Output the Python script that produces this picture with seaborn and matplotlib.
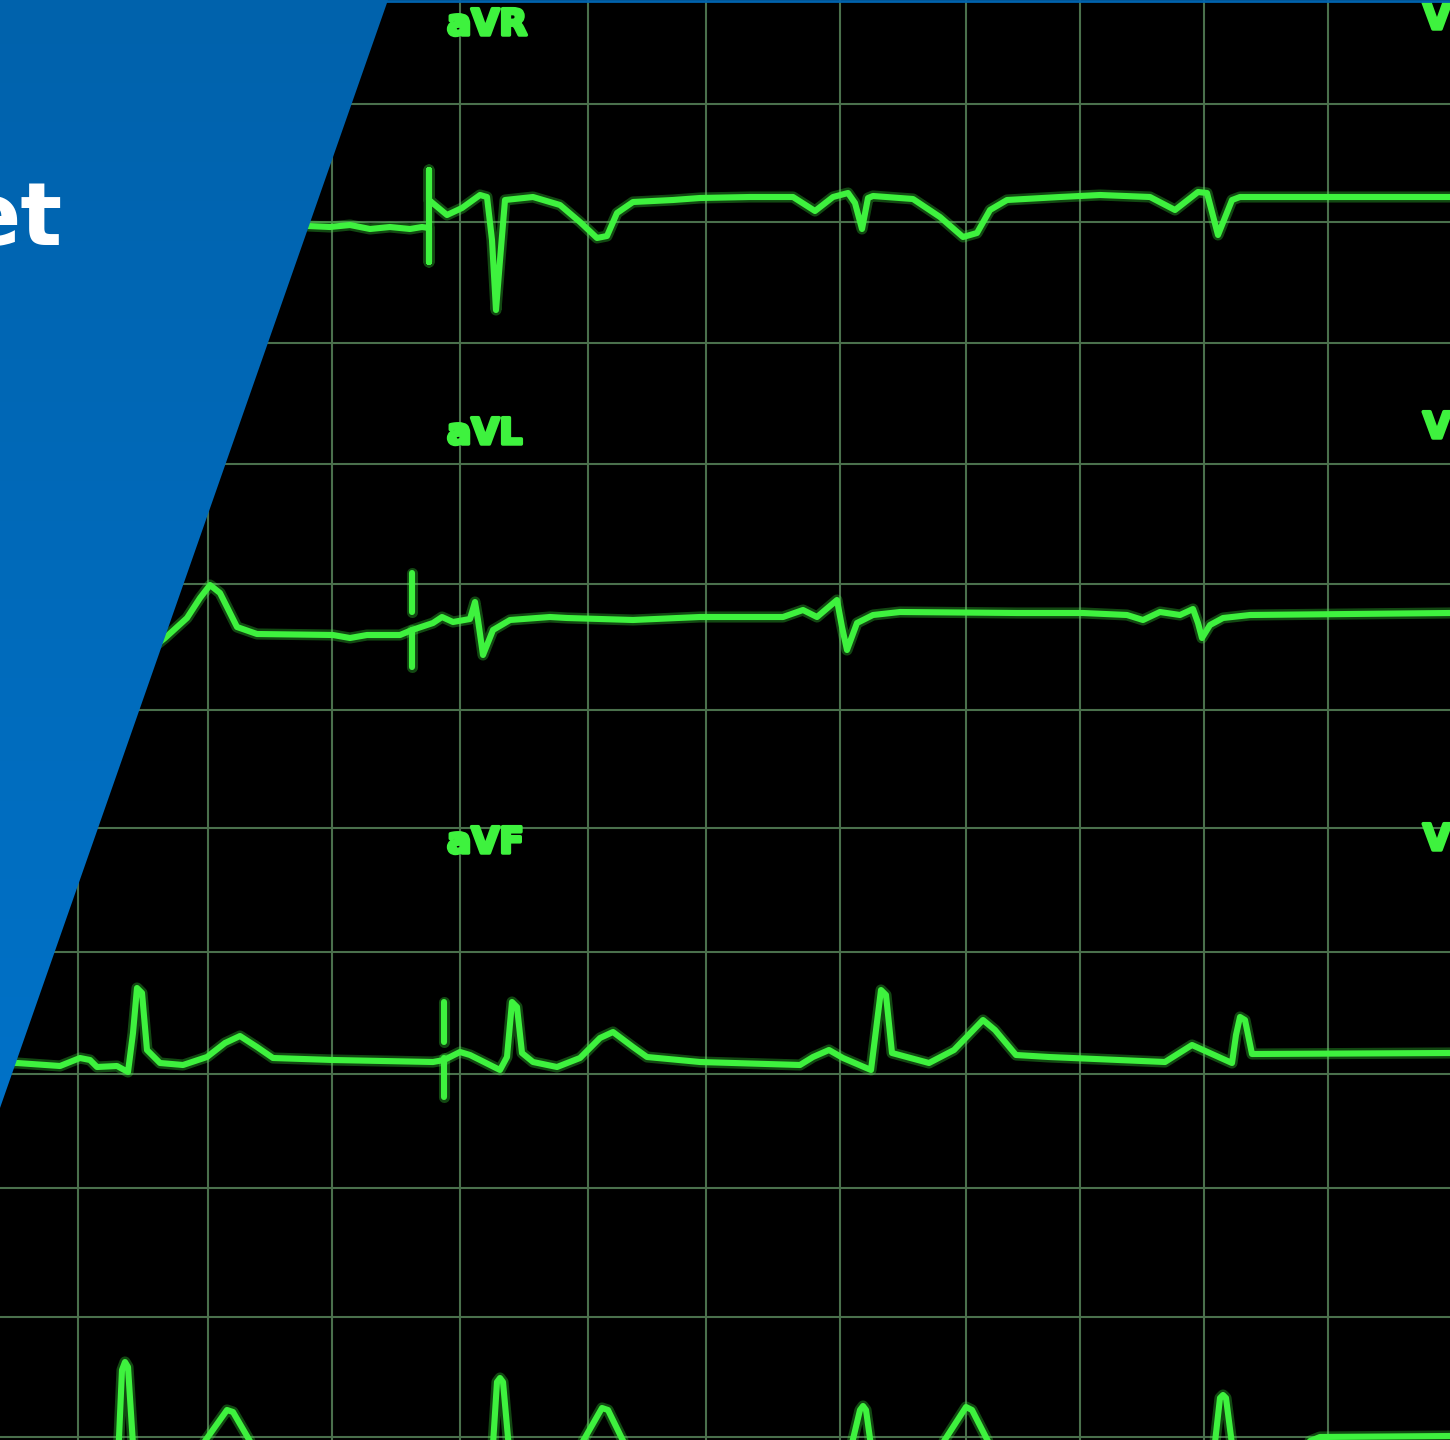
import numpy as np
import pandas as pd
import seaborn as sns
import matplotlib.pyplot as plt
from matplotlib.patches import Polygon
from matplotlib.colors import LinearSegmentedColormap
import matplotlib.patheffects as pe

# grid line positions (pixels of the screen photo)
grid_x = [78, 208, 332, 460, 588, 706, 840, 966, 1080, 1204, 1328]
grid_y = [104, 222, 343, 464, 584, 710, 828, 952, 1074, 1188, 1317, 1437]

# lead traces (x, y in pixels, y downwards)
avr_x = [308, 330, 350, 370, 390, 410, 422, 429, 429, 429, 429, 447, 462, 480, 487, 492, 496, 500, 505,
         533, 560, 580, 597, 607, 617, 633, 673, 700, 750, 793, 815, 833, 848, 855, 862, 868, 873,
         913, 940, 963, 977, 990, 1007, 1060, 1100, 1150, 1175, 1198, 1207, 1218, 1232, 1240, 1450]
avr_y = [226, 227, 225, 229, 227, 229, 227, 228, 262, 170, 200, 215, 208, 195, 197, 240, 310, 260, 200,
         197, 205, 222, 238, 236, 213, 202, 200, 198, 197, 197, 211, 197, 193, 203, 229, 198, 196,
         199, 217, 237, 233, 210, 200, 197, 195, 197, 210, 192, 193, 235, 200, 197, 197]

avl_x = [150, 165, 187, 200, 210, 220, 237, 257, 333, 350, 367, 400, 412, 433, 442, 453, 470, 475, 478,
         483, 493, 510, 550, 567, 633, 700, 783, 803, 817, 837, 842, 847, 857, 873, 900, 1017, 1083,
         1127, 1143, 1160, 1180, 1193, 1198, 1202, 1210, 1223, 1250, 1450]
avl_y = [650, 638, 618, 598, 585, 593, 627, 634, 635, 638, 635, 635, 630, 623, 617, 622, 619, 602, 620,
         655, 630, 620, 617, 618, 620, 617, 617, 610, 617, 600, 627, 650, 623, 615, 612, 613, 613,
         615, 620, 612, 615, 609, 623, 638, 625, 618, 615, 613]

avf_x = [0, 17, 60, 80, 90, 97, 117, 128, 133, 137, 142, 147, 160, 183, 207, 225, 240, 257, 273, 333,
         433, 444, 460, 470, 500, 507, 512, 517, 522, 533, 557, 580, 600, 613, 633, 647, 700, 800, 813,
         829, 843, 871, 876, 881, 886, 892, 929, 954, 983, 995, 1016, 1049, 1165, 1192, 1232, 1236,
         1240, 1245, 1252, 1450]
avf_y = [1063, 1063, 1066, 1058, 1060, 1067, 1066, 1072, 1033, 988, 993, 1050, 1063, 1065, 1057, 1043,
         1036, 1047, 1058, 1060, 1062, 1060, 1052, 1055, 1070, 1057, 1002, 1007, 1053, 1062, 1067, 1058,
         1038, 1032, 1047, 1057, 1062, 1065, 1057, 1050, 1058, 1070, 1030, 990, 995, 1053, 1063, 1050,
         1020, 1030, 1055, 1057, 1062, 1045, 1063, 1035, 1017, 1020, 1054, 1053]

v_x = [60, 118, 122, 125, 128, 134, 160, 195, 227, 233, 258, 300, 470, 492, 497, 500, 503, 510, 560,
       575, 602, 608, 630, 680, 830, 848, 860, 863, 866, 873, 900, 935, 966, 972, 995, 1030, 1190,
       1213, 1220, 1223, 1226, 1234, 1260, 1300, 1320, 1450]
v_y = [1480, 1460, 1370, 1362, 1367, 1460, 1480, 1455, 1410, 1412, 1455, 1480, 1480, 1460, 1382, 1378,
       1382, 1460, 1480, 1455, 1408, 1410, 1455, 1480, 1480, 1460, 1410, 1406, 1410, 1460, 1480, 1455,
       1407, 1410, 1455, 1480, 1480, 1460, 1398, 1395, 1398, 1460, 1470, 1445, 1437, 1436]

# calibration pulse pieces in the aVL and aVF rows
cal_x = [412, 412, 444, 444]
cal_top = [573, 630, 1002, 1058]
cal_bottom = [612, 667, 1042, 1097]

lead_labels = ["aVR", "aVL", "aVF"]
lead_label_y = [35, 444, 853]
right_label = "V"
right_label_y = [29, 438, 850]

trace_green = "#3ef23e"
grid_green = "#4a704c"

sns.set_style("white")
fig = plt.figure(figsize=(14.5, 14.4), dpi=100, facecolor="black")
ax = fig.add_axes([0, 0, 1, 1])
ax.set_facecolor("black")

for gx in grid_x:
    ax.axvline(gx, color=grid_green, lw=1.5, zorder=1)
for gy in grid_y:
    ax.axhline(gy, color=grid_green, lw=1.5, zorder=1)

for xs, ys in [(avr_x, avr_y), (avl_x, avl_y), (avf_x, avf_y), (v_x, v_y)]:
    df = pd.DataFrame({"x": xs, "y": ys})
    sns.lineplot(data=df, x="x", y="y", sort=False, estimator=None, ax=ax,
                 color=trace_green, lw=8, alpha=0.3, zorder=2,
                 solid_capstyle="round", solid_joinstyle="round")
    sns.lineplot(data=df, x="x", y="y", sort=False, estimator=None, ax=ax,
                 color=trace_green, lw=4.4, zorder=3, solid_capstyle="round", solid_joinstyle="round")

for cx, ct, cb in zip(cal_x, cal_top, cal_bottom):
    ax.plot([cx, cx], [ct, cb], color=trace_green, lw=8, alpha=0.3, zorder=2, solid_capstyle="round")
    ax.plot([cx, cx], [ct, cb], color=trace_green, lw=4.4, zorder=3, solid_capstyle="round")

glow = [pe.withStroke(linewidth=2.5, foreground=trace_green)]
for lab, ly in zip(lead_labels, lead_label_y):
    ax.text(447, ly, lab, color=trace_green, fontsize=26, fontweight="bold",
            ha="left", va="baseline", zorder=3, path_effects=glow)
for ly in right_label_y:
    ax.text(1423, ly, right_label, color=trace_green, fontsize=26, fontweight="bold",
            ha="left", va="baseline", zorder=3, path_effects=glow)

# blue banner on the left
banner = Polygon([(0, 0), (388, 0), (0, 1108)], closed=True, facecolor="none", edgecolor="none")
ax.add_patch(banner)
blue_cmap = LinearSegmentedColormap.from_list("banner", ["#0062ac", "#0072c8"])
grad = np.linspace(0, 1, 256).reshape(-1, 1)
img = ax.imshow(grad, extent=[0, 400, 1120, 0], cmap=blue_cmap, aspect="auto", zorder=5)
img.set_clip_path(banner)
ax.axhline(1, color="#0062ac", lw=2, zorder=5)

# end of the banner title, cut by the left edge as in the original
ax.text(62, 245, "et", color="white", fontsize=63, fontweight="bold",
        ha="right", va="baseline", zorder=6)

ax.set_xlim(0, 1450)
ax.set_ylim(1440, 0)
ax.axis("off")

fig.savefig("out.png", dpi=100, facecolor="black")
